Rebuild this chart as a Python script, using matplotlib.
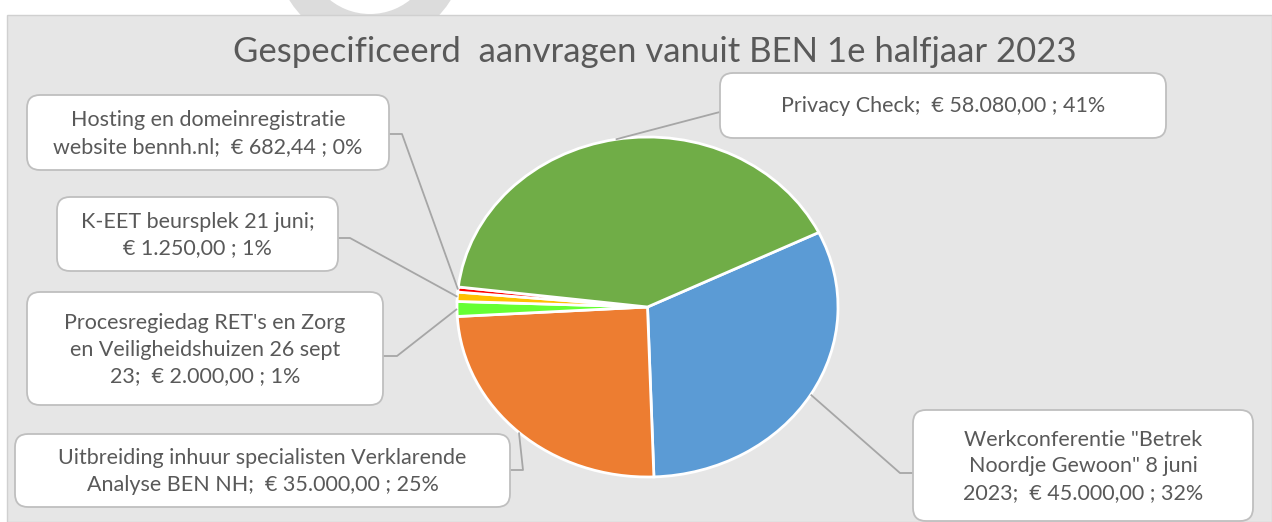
import numpy as np
import matplotlib
matplotlib.use("Agg")
import matplotlib.pyplot as plt
from matplotlib.patches import FancyBboxPatch, Rectangle, Wedge

# ---- data ----
title = "Gespecificeerd  aanvragen vanuit BEN 1e halfjaar 2023"
names = [
    'Werkconferentie "Betrek\nNoordje Gewoon" 8 juni\n2023',
    "Uitbreiding inhuur specialisten Verklarende\nAnalyse BEN NH",
    "Procesregiedag RET's en Zorg\nen Veiligheidshuizen 26 sept\n23",
    "K-EET beursplek 21 juni",
    "Hosting en domeinregistratie\nwebsite bennh.nl",
    "Privacy Check",
]
separators = ["  ", "  ", "  ", "\n", "  ", "  "]
values = [45000.00, 35000.00, 2000.00, 1250.00, 682.44, 58080.00]
colors = ["#5B9BD5", "#ED7D31", "#66FF33", "#FFC000", "#FF0000", "#70AD47"]

# ---- layout (pixels) ----
W, H = 1272, 522
boxes = [  # x0, y0, x1, y1
    (913, 410, 1253, 521),
    (15, 434, 510, 507),
    (27, 292, 383, 405),
    (57, 197, 338, 271),
    (27, 95, 389, 170),
    (720, 73, 1166, 138),
]
elbows = [  # (box attach point, elbow point)
    ((913, 473), (900, 473)),
    ((510, 470), (523, 470)),
    ((383, 356), (397, 356)),
    ((338, 238), (350, 238)),
    ((389, 134), (402, 134)),
    ((720, 112), (716, 113)),
]
pie_box = (457, 137, 838, 477)  # x0, y0, x1, y1 in pixels
text_color = "#595959"
font = "Lato"


def euro(v):
    s = f"{v:,.2f}"
    return s.replace(",", "X").replace(".", ",").replace("X", ".")


total = sum(values)
label_texts = [
    f"{n};{sep}€ {euro(v)} ; {round(v / total * 100):.0f}%"
    for n, sep, v in zip(names, separators, values)
]

fig = plt.figure(figsize=(W / 100, H / 100), dpi=100)
fig.patch.set_facecolor("white")

# background axes
bg = fig.add_axes([0, 0, 1, 1], zorder=0)
bg.set_xlim(0, W)
bg.set_ylim(H, 0)
bg.axis("off")
bg.add_patch(Wedge((370, -50), 95, 0, 360, width=31, facecolor="#DCDCDC",
                   edgecolor="none"))
bg.add_patch(Rectangle((7, 15), W - 7, H - 15, facecolor="#E6E6E6",
                       edgecolor="#D0D0D0", linewidth=1))

# pie axes
px0, py0, px1, py1 = pie_box
pax = fig.add_axes([px0 / W, 1 - py1 / H, (px1 - px0) / W, (py1 - py0) / H],
                   zorder=1)
wedges, _ = pax.pie(values, colors=colors, startangle=26, counterclock=False,
                    wedgeprops=dict(edgecolor="white", linewidth=2))
pax.set_aspect("auto")
pax.set_xlim(-1, 1)
pax.set_ylim(-1, 1)
pax.axis("off")

# overlay axes for labels and leader lines
ov = fig.add_axes([0, 0, 1, 1], zorder=2)
ov.set_xlim(0, W)
ov.set_ylim(H, 0)
ov.axis("off")
ov.patch.set_alpha(0)

to_ov = pax.transData + ov.transData.inverted()
for w, txt, (x0, y0, x1, y1), (a, e) in zip(wedges, label_texts, boxes, elbows):
    mid = np.deg2rad((w.theta1 + w.theta2) / 2)
    ex, ey = to_ov.transform((np.cos(mid), np.sin(mid)))
    ov.plot([a[0], e[0], ex], [a[1], e[1], ey], color="#A6A6A6", lw=1.3,
            solid_capstyle="butt", zorder=1)
    ov.add_patch(FancyBboxPatch((x0, y0), x1 - x0, y1 - y0,
                                boxstyle="round,pad=0,rounding_size=13",
                                facecolor="white", edgecolor="#BFBFBF",
                                linewidth=1.3, zorder=2))
    ov.text((x0 + x1) / 2, (y0 + y1) / 2 + 1, txt, ha="center", va="center",
            fontsize=15.5, color=text_color, family=font, linespacing=1.42,
            zorder=3)

ov.text(655, 52, title, ha="center", va="center", fontsize=25,
        color=text_color, family=font)

fig.savefig("out.png", dpi=100)
